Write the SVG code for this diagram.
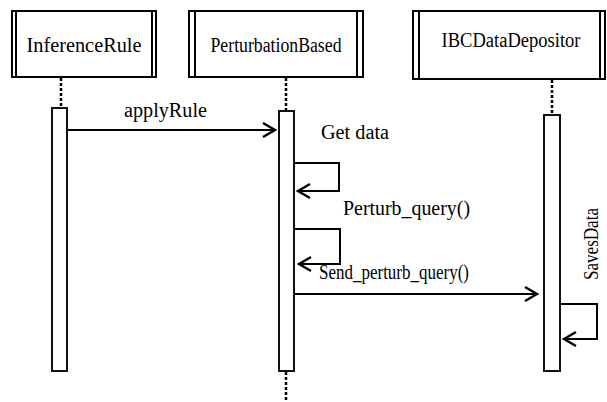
<svg xmlns="http://www.w3.org/2000/svg" width="607" height="402" viewBox="0 0 607 402" font-family="'Liberation Serif', 'DejaVu Serif', serif" font-size="20">
  <style>
    .box { fill: #fff; stroke: #000; stroke-width: 2; }
    .bar { stroke: #000; stroke-width: 2; }
    .life { stroke: #000; stroke-width: 2.5; stroke-dasharray: 3 2; fill: none; }
    .act { fill: #fff; stroke: #111; stroke-width: 2; }
    .msg { fill: none; stroke: #000; stroke-width: 2; marker-end: url(#open); }
    .lbl { font-family: 'Liberation Serif', 'DejaVu Serif', serif; font-size: 20px; fill: #000; }
    .name { text-anchor: middle; }
  </style>
  <defs>
    <marker id="open" markerUnits="userSpaceOnUse" markerWidth="16" markerHeight="18" refX="13" refY="8" orient="auto" overflow="visible">
      <path d="M1,1 L13,8 L1,15" fill="none" stroke="#000" stroke-width="2.4"/>
    </marker>
  </defs>

  <!-- lifelines -->
  <g id="lifelines">
    <line class="life" x1="61" y1="78" x2="61" y2="108"/>
    <line class="life" x1="286" y1="78" x2="286" y2="111"/>
    <line class="life" x1="286" y1="372" x2="286" y2="400"/>
    <line class="life" x1="552" y1="80" x2="552" y2="115"/>
  </g>

  <g id="InferenceRule">
    <rect class="box" x="12" y="11" width="144" height="66"/>
    <line class="bar" x1="16" y1="11" x2="16" y2="77"/>
    <line class="bar" x1="152" y1="11" x2="152" y2="77"/>
    <text class="lbl name" x="84" y="52" textLength="115" lengthAdjust="spacingAndGlyphs">InferenceRule</text>
    <rect class="act" x="52" y="108" width="15" height="263"/>
  </g>

  <g id="PerturbationBased">
    <rect class="box" x="189" y="11" width="174" height="66"/>
    <line class="bar" x1="195" y1="11" x2="195" y2="77"/>
    <line class="bar" x1="357" y1="11" x2="357" y2="77"/>
    <text class="lbl name" x="276" y="52" textLength="131" lengthAdjust="spacingAndGlyphs">PerturbationBased</text>
    <rect class="act" x="279" y="111" width="15" height="260"/>
  </g>

  <g id="IBCDataDepositor">
    <rect class="box" x="413" y="11" width="192" height="68"/>
    <line class="bar" x1="419" y1="11" x2="419" y2="79"/>
    <line class="bar" x1="600" y1="11" x2="600" y2="79"/>
    <text class="lbl name" x="511" y="47" textLength="139" lengthAdjust="spacingAndGlyphs">IBCDataDepositor</text>
    <rect class="act" x="544" y="115" width="16" height="256"/>
  </g>

  <!-- messages -->
  <g id="connectors">
    <line class="msg" x1="67" y1="130" x2="275" y2="130"/>
    <text class="lbl" x="124" y="117" textLength="83" lengthAdjust="spacingAndGlyphs">applyRule</text>

    <text class="lbl" x="321" y="139" textLength="68" lengthAdjust="spacingAndGlyphs">Get data</text>
    <polyline class="msg" points="294,163 339,163 339,191 298,191"/>

    <text class="lbl" x="343" y="215" textLength="127" lengthAdjust="spacingAndGlyphs">Perturb_query()</text>
    <polyline class="msg" points="294,229 340,229 340,264 299,264"/>

    <text class="lbl" x="319" y="279" textLength="150" lengthAdjust="spacingAndGlyphs">Send_perturb_query()</text>
    <line class="msg" x1="294" y1="294" x2="537" y2="294"/>

    <text class="lbl" transform="translate(598,280) rotate(-90)" textLength="72" lengthAdjust="spacingAndGlyphs">SavesData</text>
    <polyline class="msg" points="560,304 597,304 597,339 564,339"/>
  </g>
</svg>
